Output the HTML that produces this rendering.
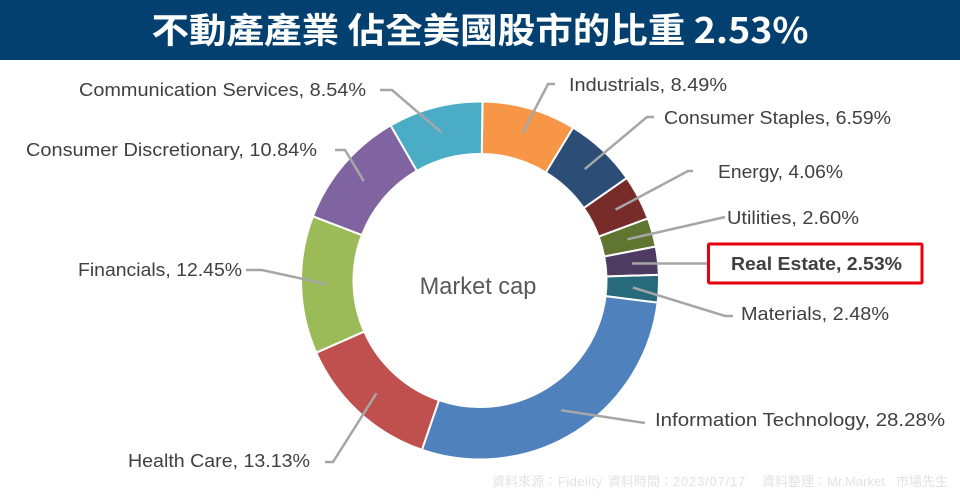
<!DOCTYPE html>
<html>
<head>
<meta charset="utf-8">
<style>
html,body{margin:0;padding:0;background:#fff;width:960px;height:502px;overflow:hidden}
svg{display:block}
text{font-family:"Liberation Sans","Noto Sans CJK TC",sans-serif}
</style>
</head>
<body>
<svg id="chart" width="960" height="502" viewBox="0 0 960 502" xmlns="http://www.w3.org/2000/svg">
<rect x="0" y="0" width="960" height="60" fill="#03406f"/>
<text x="480" y="43" text-anchor="middle" fill="#fff" font-size="35" font-weight="700" textLength="657" lengthAdjust="spacingAndGlyphs" style="font-family:'Noto Sans CJK TC','Liberation Sans',sans-serif">不動產產業 佔全美國股市的比重 2.53%</text>
<g id="slices"></g>
<g id="leaders"></g>
<text x="478" y="294" text-anchor="middle" fill="#595959" font-size="23.6">Market cap</text>
<g id="labels"></g>
<rect x="708.5" y="244" width="213.5" height="39" rx="1" fill="none" stroke="#e8000f" stroke-width="3"/>
<text y="486" fill="#e2e2e2" font-size="13"><tspan x="492">資料來源：</tspan><tspan x="558" letter-spacing="0.4">Fidelity</tspan><tspan x="608">資料時間：</tspan><tspan x="673" letter-spacing="0.8">2023/07/17</tspan><tspan x="762">資料整理：</tspan><tspan x="827">Mr.Market</tspan><tspan x="896">市場先生</tspan></text>
</svg>
<script>
const categories = ["Industrials","Consumer Staples","Energy","Utilities","Real Estate","Materials","Information Technology","Health Care","Financials","Consumer Discretionary","Communication Services"];
const shares = [8.49,6.59,4.06,2.60,2.53,2.48,28.28,13.13,12.45,10.84,8.54];
const sliceColors = ["#f79646","#2c4d75","#772c2a","#5f7530","#4d3b62","#276a7c","#4f81bd","#c0504d","#9bbb59","#8064a2","#4bacc6"];
/* layout only: label placement [text x, text width, baseline y, anchor side, elbow x, elbow y, line end x] */
const labelLayout = [
 [569,158,91,"start",548,84,555],
 [664,227,124,"start",647,117,654],
 [718,125,178,"start",688,171,693],
 [727,132,224,"start",725,217,725],
 [731,171,270,"start",710,263.5,710],
 [741,148,320,"start",725,316,733],
 [655,290,426,"start",645,423,645],
 [128,182,467,"start",333,462,325],
 [78,164,276,"start",262,270,246],
 [26,291,156,"start",345,150,335],
 [79,287,96,"start",392,90,380]
];
const cx = 480, cy = 280.5, outerR = 179, innerR = 126.5, leaderR = 153, startOffset = 0.014;
const total = shares.reduce((a, b) => a + b, 0);
const svgNS = "http://www.w3.org/2000/svg";
function angleOf(v) { return startOffset + v / total * 2 * Math.PI; }
function px(a, r) { return cx + r * Math.sin(a); }
function py(a, r) { return cy - r * Math.cos(a); }
const gS = document.getElementById("slices");
const gL = document.getElementById("leaders");
const gT = document.getElementById("labels");
let cum = 0;
categories.forEach(function (name, i) {
  const a0 = angleOf(cum), a1 = angleOf(cum + shares[i]), mid = (a0 + a1) / 2;
  const large = a1 - a0 > Math.PI ? 1 : 0;
  const key = name.toLowerCase().replace(/\s+/g, "-");
  const p = document.createElementNS(svgNS, "path");
  p.setAttribute("d", "M" + px(a0, outerR) + " " + py(a0, outerR) + "A" + outerR + " " + outerR + " 0 " + large + " 1 " + px(a1, outerR) + " " + py(a1, outerR) + "L" + px(a1, innerR) + " " + py(a1, innerR) + "A" + innerR + " " + innerR + " 0 " + large + " 0 " + px(a0, innerR) + " " + py(a0, innerR) + "Z");
  p.setAttribute("fill", sliceColors[i]);
  p.setAttribute("stroke", "#fff");
  p.setAttribute("stroke-width", "2");
  
  
  gS.appendChild(p);
  const lay = labelLayout[i];
  const l = document.createElementNS(svgNS, "polyline");
  l.setAttribute("points", px(mid, leaderR) + "," + py(mid, leaderR) + " " + lay[4] + "," + lay[5] + " " + lay[6] + "," + lay[5]);
  l.setAttribute("fill", "none");
  l.setAttribute("stroke", "#a6a6a6");
  l.setAttribute("stroke-width", "2.5");
  
  
  gL.appendChild(l);
  const t = document.createElementNS(svgNS, "text");
  t.textContent = name + ", " + shares[i].toFixed(2) + "%";
  t.setAttribute("x", lay[0]);
  t.setAttribute("y", lay[2]);
  t.setAttribute("textLength", lay[1]);
  t.setAttribute("lengthAdjust", "spacingAndGlyphs");
  t.setAttribute("font-size", "18.5");
  t.setAttribute("fill", "#404040");
  if (name === "Real Estate") t.setAttribute("font-weight", "700");
  
  
  gT.appendChild(t);
  cum += shares[i];
});
</script>
</body>
</html>
